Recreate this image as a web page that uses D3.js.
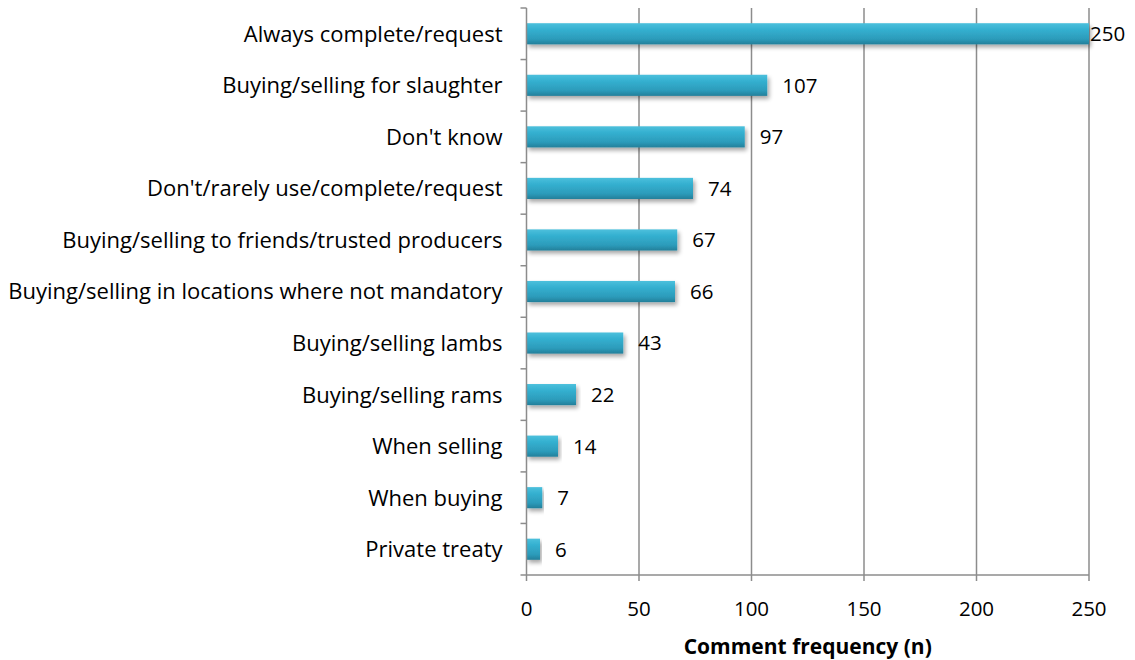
<!DOCTYPE html>
<html>
<head>
<meta charset="utf-8">
<script src="https://cdn.jsdelivr.net/npm/d3@7"></script>
<style>
  html, body { margin: 0; padding: 0; background: #fff; }
  svg { display: block; }
  text { font-family: "Open Sans", Lato, sans-serif; fill: #000; }
</style>
</head>
<body>
<svg id="chart" width="1135" height="660"></svg>
<script>
// Reasons given for completing / not completing the form, by comment count
const categories = [
  "Always complete/request",
  "Buying/selling for slaughter",
  "Don't know",
  "Don't/rarely use/complete/request",
  "Buying/selling to friends/trusted producers",
  "Buying/selling in locations where not mandatory",
  "Buying/selling lambs",
  "Buying/selling rams",
  "When selling",
  "When buying",
  "Private treaty"
];
const counts = [250, 107, 97, 74, 67, 66, 43, 22, 14, 7, 6];
const xTicks = [0, 50, 100, 150, 200, 250];
const xTitle = "Comment frequency (n)";

const svg = d3.select("#chart");
const margin = { top: 8, right: 46, bottom: 85, left: 526.5 };
const W = 1135, H = 660;
const plotW = W - margin.left - margin.right;
const plotH = H - margin.top - margin.bottom;
const numSize = 20.5;
const catSize = 22;

const defs = svg.append("defs");
const grad = defs.append("linearGradient")
  .attr("id", "barGrad").attr("x1", 0).attr("y1", 0).attr("x2", 0).attr("y2", 1);
grad.append("stop").attr("offset", "0%").attr("stop-color", "#4cc0dc");
grad.append("stop").attr("offset", "30%").attr("stop-color", "#34b0d0");
grad.append("stop").attr("offset", "75%").attr("stop-color", "#2c9bba");
grad.append("stop").attr("offset", "100%").attr("stop-color", "#237f9a");

const shadow = defs.append("filter").attr("id", "barShadow")
  .attr("x", "-5%").attr("y", "-30%").attr("width", "115%").attr("height", "180%");
shadow.append("feGaussianBlur").attr("in", "SourceAlpha").attr("stdDeviation", 2.2);
shadow.append("feOffset").attr("dx", 1.5).attr("dy", 3).attr("result", "off");
shadow.append("feComponentTransfer").append("feFuncA").attr("type", "linear").attr("slope", 0.35);
const merge = shadow.append("feMerge");
merge.append("feMergeNode");
merge.append("feMergeNode").attr("in", "SourceGraphic");

const g = svg.append("g").attr("transform", `translate(${margin.left},${margin.top})`);

const x = d3.scaleLinear().domain([0, 250]).range([0, plotW]);
const y = d3.scaleBand().domain(categories).range([0, plotH]).paddingInner(0.59).paddingOuter(0.295);
const yOuter = d3.scaleBand().domain(categories).range([0, plotH]);

// vertical gridlines
g.append("g").selectAll("line").data(xTicks.filter(t => t > 0)).join("line")
  .attr("x1", d => x(d)).attr("x2", d => x(d))
  .attr("y1", 0).attr("y2", plotH + 6)
  .attr("stroke", "#8c8c8c").attr("stroke-width", 1.5);

// bars
g.append("g").selectAll("rect").data(categories).join("rect")
  .attr("x", 0)
  .attr("y", d => y(d))
  .attr("width", (d, i) => x(counts[i]))
  .attr("height", y.bandwidth())
  .attr("fill", "url(#barGrad)")
  .attr("filter", "url(#barShadow)");

// value labels
g.append("g").selectAll("text").data(categories).join("text")
  .attr("x", (d, i) => Math.min(x(counts[i]) + 15, plotW + 1))
  .attr("y", d => y(d) + y.bandwidth() / 2)
  .attr("dy", "0.36em")
  .attr("font-size", numSize)
  .text((d, i) => counts[i]);

// y axis line and ticks
const axisColor = "#8c8c8c";
g.append("line").attr("x1", 0).attr("x2", 0).attr("y1", 0).attr("y2", plotH + 6)
  .attr("stroke", axisColor).attr("stroke-width", 1.5);
const yBounds = categories.map(c => yOuter(c)).concat([plotH]);
g.append("g").selectAll("line").data(yBounds).join("line")
  .attr("x1", -6).attr("x2", 0)
  .attr("y1", d => d).attr("y2", d => d)
  .attr("stroke", axisColor).attr("stroke-width", 1.5);

// x axis line
g.append("line").attr("x1", 0).attr("x2", plotW).attr("y1", plotH).attr("y2", plotH)
  .attr("stroke", axisColor).attr("stroke-width", 1.5);

// category labels
g.append("g").selectAll("text").data(categories).join("text")
  .attr("x", -24)
  .attr("y", d => yOuter(d) + yOuter.bandwidth() / 2)
  .attr("dy", "0.36em")
  .attr("text-anchor", "end")
  .attr("font-size", catSize)
  .text(d => d);

// x tick labels
g.append("g").selectAll("text").data(xTicks).join("text")
  .attr("x", d => x(d))
  .attr("y", plotH + 41)
  .attr("text-anchor", "middle")
  .attr("font-size", numSize)
  .text(d => d);

// axis title
g.append("text")
  .attr("x", plotW / 2)
  .attr("y", plotH + 79)
  .attr("text-anchor", "middle")
  .attr("font-size", 21)
  .attr("font-weight", "bold")
  .text(xTitle);
</script>
</body>
</html>
